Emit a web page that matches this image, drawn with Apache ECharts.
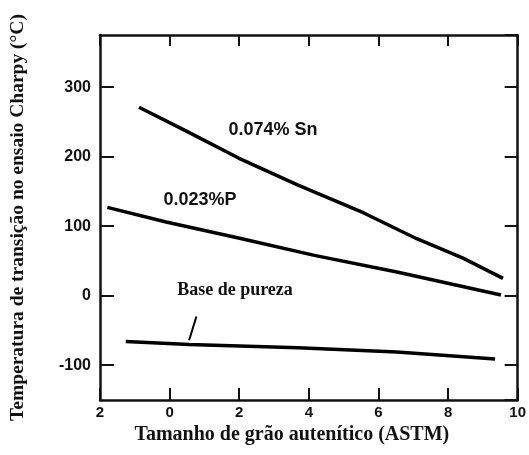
<!DOCTYPE html>
<html>
<head>
<meta charset="utf-8">
<script src="https://cdn.jsdelivr.net/npm/echarts@6/dist/echarts.min.js"></script>
<style>
html,body{margin:0;padding:0;background:#fff;}
#c{width:529px;height:455px;}
</style>
</head>
<body>
<div id="c"></div>
<script>
// Data
const xTickValues = [-2, 0, 2, 4, 6, 8, 10];
const xTickLabels = ['2', '0', '2', '4', '6', '8', '10'];
const yTickValues = [-100, 0, 100, 200, 300];
const yTickLabels = ['-100', '0', '100', '200', '300'];

const snX = [-0.88, 0.51, 1.98, 3.69, 5.58, 7.10, 8.43, 9.58];
const snY = [271, 236, 198, 159, 119, 82, 54, 25];

const pX = [-1.79, -0.10, 1.98, 4.16, 6.53, 9.52];
const pY = [127, 106, 83, 58, 34, 1];

const baseX = [-1.26, 0.56, 3.69, 6.53, 9.35];
const baseY = [-66, -70, -75, -81, -91];

const pointerX = [0.77, 0.56];
const pointerY = [-30, -64];

const seriesNames = ['0.074% Sn', '0.023%P', 'Base de pureza'];

const xTitle = 'Tamanho de grão autenítico (ASTM)';
const yTitle = 'Temperatura de transição no ensaio Charpy (°C)';

const zip = (a, b) => a.map((v, i) => [v, b[i]]);

const chart = echarts.init(document.getElementById('c'));
const axisLine = { show: true, onZero: false, lineStyle: { color: '#111', width: 2.5 } };
const tickStyle = { color: '#111', width: 2 };

const xLab = v => { const i = xTickValues.indexOf(v); return i >= 0 ? xTickLabels[i] : ''; };
const yLab = v => { const i = yTickValues.indexOf(v); return i >= 0 ? yTickLabels[i] : ''; };

const option = {
  backgroundColor: '#fff',
  animation: false,
  grid: { left: 100, right: 8, top: 35, bottom: 55, containLabel: false },
  xAxis: [
    {
      type: 'value', min: -2, max: 10, interval: 2, position: 'bottom',
      axisLine: axisLine,
      axisTick: { show: true, inside: true, length: 12, lineStyle: tickStyle },
      splitLine: { show: false },
      axisLabel: { formatter: xLab, margin: 5, color: '#111', fontFamily: 'Liberation Sans', fontWeight: 'bold', fontSize: 15, showMinLabel: true, showMaxLabel: true },
      name: xTitle, nameLocation: 'middle', nameGap: 24,
      nameTextStyle: { fontFamily: 'Liberation Serif', fontWeight: 'bold', fontSize: 20, color: '#111', padding: [0, 34, 0, 0] }
    },
    {
      type: 'value', min: -2, max: 10, interval: 2, position: 'top',
      axisLine: axisLine,
      axisTick: { show: true, inside: true, length: 11, lineStyle: tickStyle },
      splitLine: { show: false },
      axisLabel: { show: false }
    }
  ],
  yAxis: [
    {
      type: 'value', min: -150, max: 375, splitNumber: 5, position: 'left',
      axisLine: axisLine,
      axisTick: { show: true, inside: true, length: 14, lineStyle: tickStyle },
      splitLine: { show: false },
      axisLabel: { formatter: yLab, margin: 9, color: '#111', fontFamily: 'Liberation Sans', fontWeight: 'bold', fontSize: 16, showMinLabel: false, showMaxLabel: false },
      name: yTitle, nameLocation: 'middle', nameGap: 72,
      nameTextStyle: { fontFamily: 'Liberation Serif', fontWeight: 'bold', fontSize: 19.5, color: '#111' }
    },
    {
      type: 'value', min: -150, max: 375, splitNumber: 5, position: 'right',
      axisLine: axisLine,
      axisTick: { show: true, inside: true, length: 13, lineStyle: tickStyle },
      splitLine: { show: false },
      axisLabel: { show: false }
    }
  ],
  series: [
    { name: seriesNames[0], type: 'line', data: zip(snX, snY), showSymbol: false, symbol: 'none', lineStyle: { color: '#000', width: 3.5 } },
    { name: seriesNames[1], type: 'line', data: zip(pX, pY), showSymbol: false, symbol: 'none', lineStyle: { color: '#000', width: 3.5 } },
    { name: seriesNames[2], type: 'line', data: zip(baseX, baseY), showSymbol: false, symbol: 'none', lineStyle: { color: '#000', width: 3.5 } },
    { name: 'pointer', type: 'line', data: zip(pointerX, pointerY), showSymbol: false, symbol: 'none', lineStyle: { color: '#000', width: 2 } }
  ],
  graphic: [
    { type: 'text', x: 273, y: 130, style: { text: seriesNames[0], textAlign: 'center', textVerticalAlign: 'middle', font: 'bold 18px "Liberation Sans"', fill: '#111' } },
    { type: 'text', x: 200, y: 200, style: { text: seriesNames[1], textAlign: 'center', textVerticalAlign: 'middle', font: 'bold 18px "Liberation Sans"', fill: '#111' } },
    { type: 'text', x: 235, y: 290, style: { text: seriesNames[2], textAlign: 'center', textVerticalAlign: 'middle', font: 'bold 18px "Liberation Serif"', fill: '#111' } }
  ]
};
chart.setOption(option);
</script>
</body>
</html>
